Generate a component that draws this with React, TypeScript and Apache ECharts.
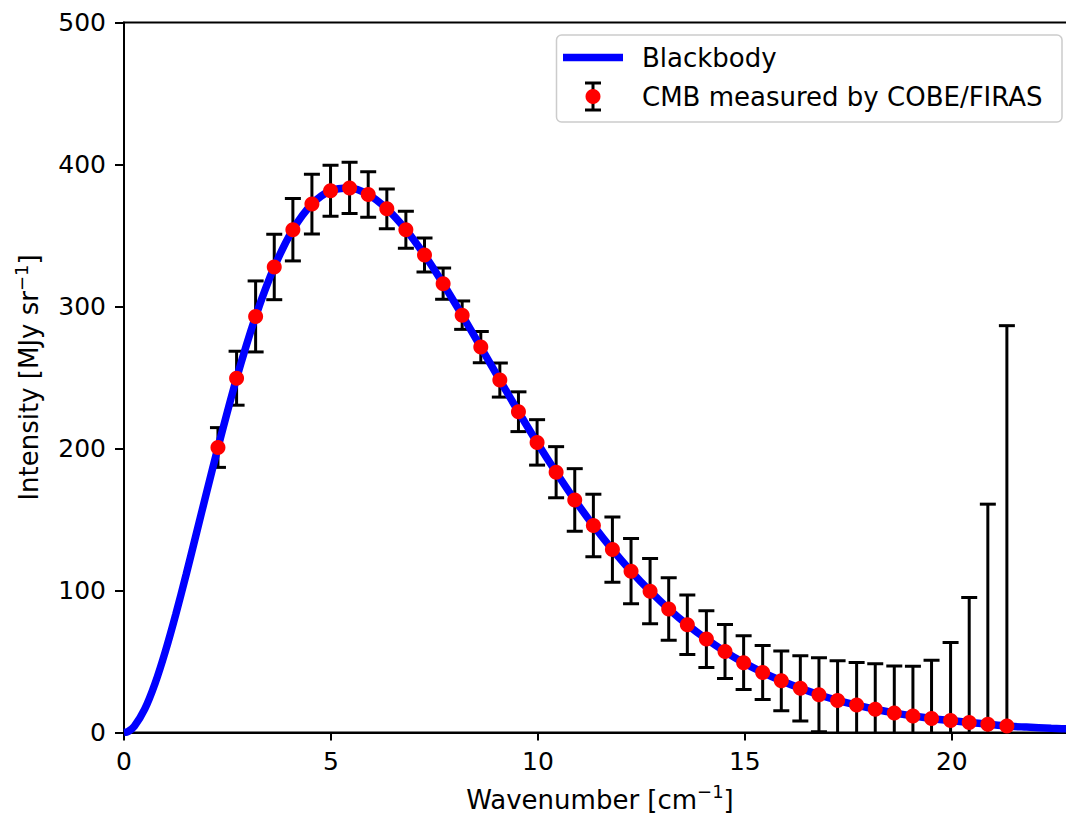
import React, { useEffect, useRef } from "react";
import * as echarts from "echarts";

const wavenumber = [2.27, 2.72, 3.18, 3.63, 4.08, 4.54, 4.99, 5.45, 5.90, 6.35, 6.81, 7.26, 7.71, 8.17, 8.62, 9.08, 9.53, 9.98, 10.44, 10.89, 11.34, 11.80, 12.25, 12.71, 13.16, 13.61, 14.07, 14.52, 14.97, 15.43, 15.88, 16.34, 16.79, 17.24, 17.70, 18.15, 18.61, 19.06, 19.51, 19.97, 20.42, 20.87, 21.33];
const intensity = [200.7, 249.5, 293.0, 327.8, 354.1, 372.1, 381.5, 383.5, 378.9, 368.8, 354.1, 336.3, 316.1, 293.9, 271.4, 248.2, 225.9, 204.3, 183.3, 163.8, 145.8, 128.8, 113.6, 99.5, 87.0, 75.9, 65.8, 57.0, 49.2, 42.3, 36.4, 31.1, 26.6, 22.6, 19.3, 16.4, 13.8, 11.7, 9.9, 8.4, 7.1, 5.8, 4.5];
const errorHalf = [14, 19, 25, 23, 22, 21, 18, 18, 16, 14, 13, 12, 11, 10, 11, 12, 14, 16, 18, 22, 22, 23, 23, 23, 22, 21, 20, 19, 19, 19, 21, 23, 26, 28, 30, 32, 33, 35, 41, 55, 88, 155, 282];

// Blackbody curve samples
const curveLowX = [0, 0.1, 0.25, 0.5, 0.75, 1.0, 1.25, 1.5, 1.75, 2.0];
const curveLowY = [0, 0.7, 4.4, 16.4, 34.5, 57.2, 83.1, 111.1, 140.3, 169.6];
const curveHighX = [21.8, 22.4, 23.0];
const curveHighY = [3.8, 3.0, 2.4];

const xTicks = { min: 0, max: 23, interval: 5 };
const yTicks = { min: 0, max: 500, interval: 100 };

const FONT = "DejaVu Sans";

const nameRich = {
  a: { fontFamily: FONT, fontSize: 26, lineHeight: 28, color: "#000", verticalAlign: "bottom" },
  s: { fontFamily: FONT, fontSize: 18, lineHeight: 18, color: "#000", verticalAlign: "bottom", padding: [0, 0, 12, 0] },
};

export default function App() {
  const ref = useRef<HTMLDivElement>(null);
  useEffect(() => {
    if (!ref.current) return;
    const chart = echarts.init(ref.current, undefined, { renderer: "svg" });

    const curve: number[][] = [];
    curveLowX.forEach((x, i) => curve.push([x, curveLowY[i]]));
    wavenumber.forEach((x, i) => curve.push([x, intensity[i]]));
    curveHighX.forEach((x, i) => curve.push([x, curveHighY[i]]));

    const points = wavenumber.map((x, i) => [x, intensity[i]]);
    const bars = wavenumber.map((x, i) => [x, intensity[i] - errorHalf[i], intensity[i] + errorHalf[i]]);

    const barStyle = { stroke: "#000000", lineWidth: 3 };
    const capHalf = 8;

    const option: any = {
      animation: false,
      backgroundColor: "#ffffff",
      grid: {
        left: 124,
        right: 0,
        top: 22.5,
        bottom: 86.5,
        show: true,
        borderColor: "#000000",
        borderWidth: 2,
        backgroundColor: "transparent",
      },
      xAxis: {
        type: "value",
        min: xTicks.min,
        max: xTicks.max,
        interval: xTicks.interval,
        name: "{a|Wavenumber [cm}{s|−1}{a|]}",
        nameLocation: "middle",
        nameGap: 52,
        nameTextStyle: { fontFamily: FONT, fontSize: 26, color: "#000", rich: nameRich },
        axisLine: { show: true, onZero: false, lineStyle: { color: "#000", width: 2 } },
        axisTick: { show: true, inside: false, length: 8, lineStyle: { color: "#000", width: 2 } },
        axisLabel: { showMaxLabel: false, margin: 16, fontFamily: FONT, fontSize: 25, color: "#000" },
        splitLine: { show: false },
      },
      yAxis: {
        type: "value",
        min: yTicks.min,
        max: yTicks.max,
        interval: yTicks.interval,
        name: "{a|Intensity [MJy sr}{s|−1}{a|]}",
        nameLocation: "middle",
        nameGap: 82,
        nameTextStyle: { fontFamily: FONT, fontSize: 26, color: "#000", rich: nameRich },
        axisLine: { show: true, onZero: false, lineStyle: { color: "#000", width: 2 } },
        axisTick: { show: true, inside: false, length: 9, lineStyle: { color: "#000", width: 2 } },
        axisLabel: { margin: 18, fontFamily: FONT, fontSize: 25, color: "#000" },
        splitLine: { show: false },
      },
      series: [
        {
          type: "custom",
          name: "errors",
          clip: true,
          data: bars,
          renderItem: (params: any, api: any) => {
            const x = api.value(0);
            const lo = api.coord([x, api.value(1)]);
            const hi = api.coord([x, api.value(2)]);
            return {
              type: "group",
              children: [
                { type: "line", shape: { x1: lo[0], y1: lo[1], x2: hi[0], y2: hi[1] }, style: barStyle },
                { type: "line", shape: { x1: lo[0] - capHalf, y1: lo[1], x2: lo[0] + capHalf, y2: lo[1] }, style: barStyle },
                { type: "line", shape: { x1: hi[0] - capHalf, y1: hi[1], x2: hi[0] + capHalf, y2: hi[1] }, style: barStyle },
              ],
            };
          },
        },
        {
          type: "line",
          name: "Blackbody",
          data: curve,
          showSymbol: false,
          smooth: 0.3,
          clip: true,
          lineStyle: { color: "#0000ff", width: 7.5 },
          z: 3,
        },
        {
          type: "scatter",
          name: "CMB measured by COBE/FIRAS",
          data: points,
          symbol: "circle",
          symbolSize: 15,
          itemStyle: { color: "#ff0000", opacity: 1 },
          z: 4,
        },
      ],
      graphic: [
        {
          type: "group",
          z: 100,
          children: [
            {
              type: "rect",
              shape: { x: 556.5, y: 35, width: 505.5, height: 87, r: 5 },
              style: { fill: "rgba(255,255,255,0.8)", stroke: "#cccccc", lineWidth: 1.5 },
            },
            {
              type: "line",
              shape: { x1: 563, y1: 57.5, x2: 623, y2: 57.5 },
              style: { stroke: "#0000ff", lineWidth: 7.5 },
            },
            {
              type: "text",
              x: 642,
              y: 57.5,
              style: { text: "Blackbody", fontFamily: FONT, fontSize: 26, fill: "#000", verticalAlign: "middle" },
            },
            { type: "line", shape: { x1: 593, y1: 83, x2: 593, y2: 110 }, style: barStyle },
            { type: "line", shape: { x1: 585, y1: 83, x2: 601, y2: 83 }, style: barStyle },
            { type: "line", shape: { x1: 585, y1: 110, x2: 601, y2: 110 }, style: barStyle },
            { type: "circle", shape: { cx: 593, cy: 96.5, r: 7.5 }, style: { fill: "#ff0000" } },
            {
              type: "text",
              x: 642,
              y: 96.5,
              style: { text: "CMB measured by COBE/FIRAS", fontFamily: FONT, fontSize: 26, fill: "#000", verticalAlign: "middle" },
            },
          ],
        },
      ],
    };
    chart.setOption(option);
    return () => chart.dispose();
  }, []);
  return (
    <div style={{ position: "absolute", left: 0, top: 0, width: 1066, height: 819, overflow: "hidden", background: "#fff" }}>
      <div ref={ref} style={{ width: 1076, height: 819 }} />
    </div>
  );
}
